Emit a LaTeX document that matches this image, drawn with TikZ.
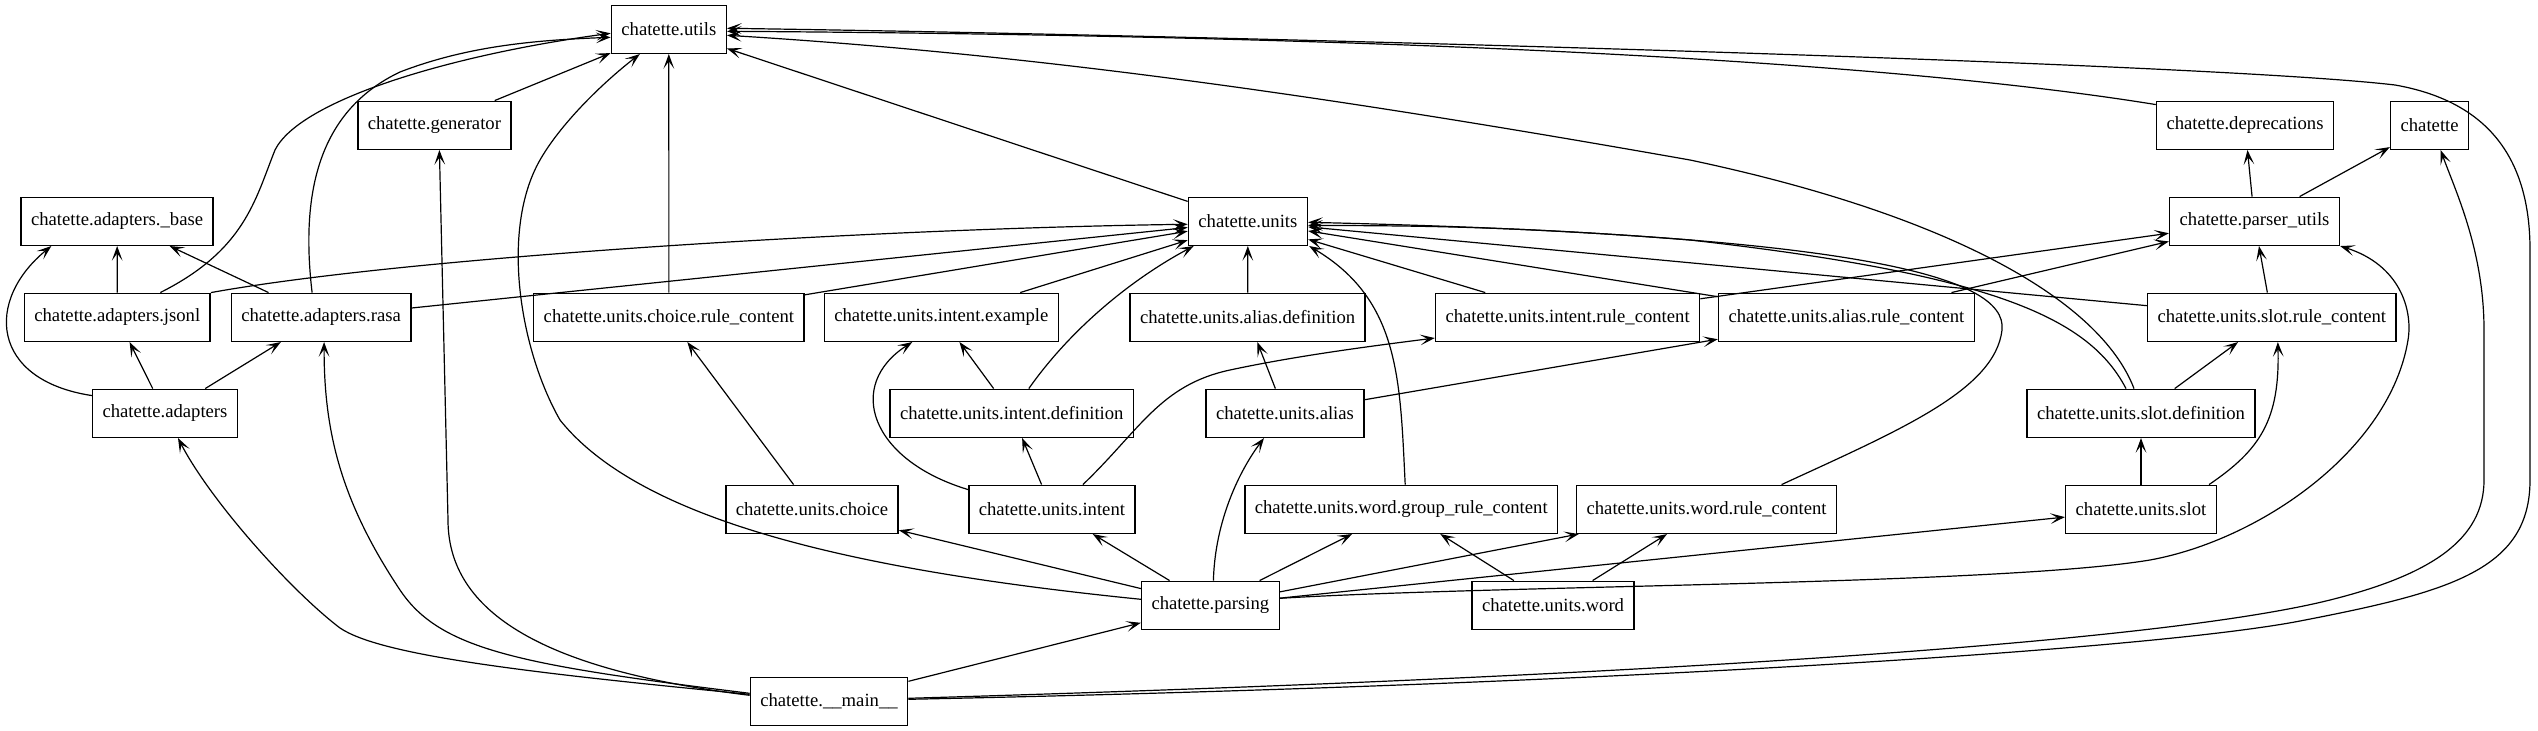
\documentclass[tikz,border=0pt]{standalone}
\usepackage{fontspec}
\setmainfont{Liberation Serif}
\usetikzlibrary{arrows.meta,calc}
\begin{document}
\begin{tikzpicture}[x=0.75pt,y=-0.75pt,
  modbox/.style={draw, line width=1.1pt, rectangle, minimum height=36pt, minimum width=54pt,
    inner xsep=7.5pt, inner ysep=0pt, font=\fontsize{14}{16}\selectfont},
  dep/.style={-{Stealth[length=11pt,width=8pt,inset=5.5pt]}, line width=0.9pt}]
\useasboundingbox (0,0) rectangle (2538,731);
% row 0
\node[modbox] (utils) at (668.8,29.3) {chatette.utils};
% row 1
\node[modbox] (generator) at (434.4,125.3) {chatette.generator};
\node[modbox] (deprecations) at (2245,125.3) {chatette.deprecations};
\node[modbox] (chatette) at (2429.6,125.3) {chatette};
% row 2
\node[modbox] (base) at (117.1,221.3) {chatette.adapters.\_base};
\node[modbox] (units) at (1247.9,221.3) {chatette.units};
\node[modbox] (parserutils) at (2254.5,221.3) {chatette.parser\_utils};
% row 3
\node[modbox] (jsonl) at (117.3,317.3) {chatette.adapters.jsonl};
\node[modbox] (rasa) at (321.1,317.3) {chatette.adapters.rasa};
\node[modbox] (choicerc) at (668.9,317.3) {chatette.units.choice.rule\_content};
\node[modbox] (intentex) at (941.3,317.3) {chatette.units.intent.example};
\node[modbox] (aliasdef) at (1247.6,317.3) {chatette.units.alias.definition};
\node[modbox] (intentrc) at (1567.6,317.3) {chatette.units.intent.rule\_content};
\node[modbox] (aliasrc) at (1846.4,317.3) {chatette.units.alias.rule\_content};
\node[modbox] (slotrc) at (2271.8,317.3) {chatette.units.slot.rule\_content};
% row 4
\node[modbox] (adapters) at (165,413.3) {chatette.adapters};
\node[modbox] (intentdef) at (1011.8,413.3) {chatette.units.intent.definition};
\node[modbox] (alias) at (1285,413.3) {chatette.units.alias};
\node[modbox] (slotdef) at (2141,413.3) {chatette.units.slot.definition};
% row 5
\node[modbox] (choice) at (812,509.3) {chatette.units.choice};
\node[modbox] (intent) at (1051.9,509.3) {chatette.units.intent};
\node[modbox] (wordgrc) at (1401.2,509.3) {chatette.units.word.group\_rule\_content};
\node[modbox] (wordrc) at (1706.6,509.3) {chatette.units.word.rule\_content};
\node[modbox] (slot) at (2141,509.3) {chatette.units.slot};
% row 6
\node[modbox] (parsing) at (1210.4,605.3) {chatette.parsing};
\node[modbox] (word) at (1553,605.3) {chatette.units.word};
% row 7
\node[modbox] (main) at (829,701.3) {chatette.\_\_main\_\_};

% straight connectors
\draw[dep] (generator) -- (utils);
\draw[dep] (jsonl) -- (base);
\draw[dep] (rasa) -- (base);
\draw[dep] (adapters) -- (jsonl);
\draw[dep] (adapters) -- (rasa);
\draw[dep] (choicerc) -- (utils);
\draw[dep] (units) -- (utils);
\draw[dep] (intentex) -- (units);
\draw[dep] (choicerc) -- (units);
\draw[dep] (rasa) -- (units);
\draw[dep] (aliasdef) -- (units);
\draw[dep] (intentrc) -- (units);
\draw[dep] (aliasrc) -- (units);
\draw[dep] (slotrc) -- (units);
\draw[dep] (slotrc) -- (parserutils);
\draw[dep] (parserutils) -- (deprecations);
\draw[dep] (parserutils) -- (chatette);
\draw[dep] (alias) -- (aliasdef);
\draw[dep] (alias) -- (aliasrc);
\draw[dep] (intentdef) -- (intentex);
\draw[dep] (intent) -- (intentdef);
\draw[dep] (slot) -- (slotdef);
\draw[dep] (slotdef) -- (slotrc);
\draw[dep] (choice) -- (choicerc);
\draw[dep] (parsing) -- (choice);
\draw[dep] (parsing) -- (intent);
\draw[dep] (parsing) -- (wordgrc);
\draw[dep] (parsing) -- (wordrc);
\draw[dep] (word) -- (wordgrc);
\draw[dep] (word) -- (wordrc);
\draw[dep] (main) -- (parsing);
\draw[dep] (parsing) -- (slot);
\draw[dep] (intentrc) -- (parserutils);
\draw[dep] (aliasrc) -- (parserutils);

% curved connectors
\draw[dep] ($(jsonl.north)+(43,0)$) .. controls (245,250) and (255,200) .. (275,150)
  .. controls (300,100) and (450,55) .. ($(utils.west)+(0,4)$);
\draw[dep] ($(rasa.north)+(-9,0)$) .. controls (300,190) and (320,110) .. (400,72)
  .. controls (470,45) and (540,40) .. ($(utils.west)+(0,8)$);
\draw[dep] ($(main.west)+(0,-7)$) .. controls (520,672) and (380,655) .. (340,628)
  .. controls (290,590) and (210,500) .. ($(adapters.south)+(13,0)$);
\draw[dep] ($(main.west)+(0,-8)$) .. controls (520,665) and (440,650) .. (400,590)
  .. controls (340,500) and (324,430) .. ($(rasa.south)+(3,0)$);
\draw[dep] ($(main.west)+(0,-6)$) .. controls (560,672) and (448,620) .. (448,520)
  -- ($(generator.south)+(5,0)$);
\draw[dep] ($(parsing.west)+(0,-6)$) .. controls (850,570) and (640,520) .. (560,420)
  .. controls (520,350) and (500,230) .. (540,160)
  .. controls (560,125) and (600,85) .. ($(utils.south)+(-29,0)$);
\draw[dep] ($(adapters.north west)+(0,7)$) .. controls (-10,380) and (-15,300) .. ($(base.south west)+(31,0)$);
\draw[dep] ($(deprecations.north west)+(0,4)$) .. controls (1850,55) and (1300,35) .. ($(utils.east)+(0,2)$);
\draw[dep] ($(slotdef.north)+(-7,0)$) .. controls (2100,300) and (1950,215) .. (1690,160)
  .. controls (1350,100) and (1050,55) .. ($(utils.east)+(0,6)$);
\draw[dep] ($(main.east)+(0,-2)$) .. controls (1600,685) and (2150,650) .. (2300,621)
  .. controls (2450,592) and (2530,570) .. (2530,480) -- (2530,250)
  .. controls (2530,150) and (2480,100) .. (2395,85)
  .. controls (2200,62) and (1200,35) .. ($(utils.east)+(0,-1)$);
\draw[dep] ($(main.east)+(0,-3)$) .. controls (1600,678) and (2150,645) .. (2330,600)
  .. controls (2430,575) and (2484,540) .. (2484,480) -- (2484,330)
  .. controls (2484,250) and (2455,190) .. ($(chatette.south)+(11,0)$);
\draw[dep] ($(parsing.east)+(0,-7)$) .. controls (1500,585) and (2000,585) .. (2150,560)
  .. controls (2260,540) and (2390,450) .. (2408,340)
  .. controls (2413,310) and (2400,265) .. (parserutils.south east);
\draw[dep] ($(wordrc.north)+(75,0)$) .. controls (1900,430) and (1995,390) .. (2002,330)
  .. controls (2008,275) and (1850,235) .. ($(units.east)+(0,1)$);
\draw[dep] ($(slotdef.north)+(-15,0)$) .. controls (2090,320) and (2000,275) .. (1690,240)
  .. controls (1500,225) and (1400,226) .. ($(units.east)+(0,4)$);
\draw[dep] ($(wordgrc.north)+(4,0)$) .. controls (1400,380) and (1400,300) .. ($(units.south east)+(1,0)$);
\draw[dep] ($(intentdef.north)+(17,0)$) .. controls (1070,330) and (1130,280) .. ($(units.south west)+(6,0)$);
\draw[dep] ($(intent.north west)+(0,5)$) .. controls (870,460) and (845,385) .. ($(intentex.south)+(-29,0)$);
\draw[dep] ($(intent.north)+(31,0)$) .. controls (1140,430) and (1160,385) .. (1230,370)
  .. controls (1300,355) and (1380,345) .. ($(intentrc.south west)+(0,-4)$);
\draw[dep] ($(parsing.north)+(3,0)$) .. controls (1215,520) and (1240,470) .. ($(alias.south)+(-21,0)$);
\draw[dep] ($(slot.north east)+(-8,0)$) .. controls (2260,450) and (2280,420) .. ($(slotrc.south)+(6,0)$);
\draw[dep] (jsonl.north east) .. controls (420,255) and (900,228) .. ($(units.west)+(0,3)$);
\end{tikzpicture}
\end{document}
